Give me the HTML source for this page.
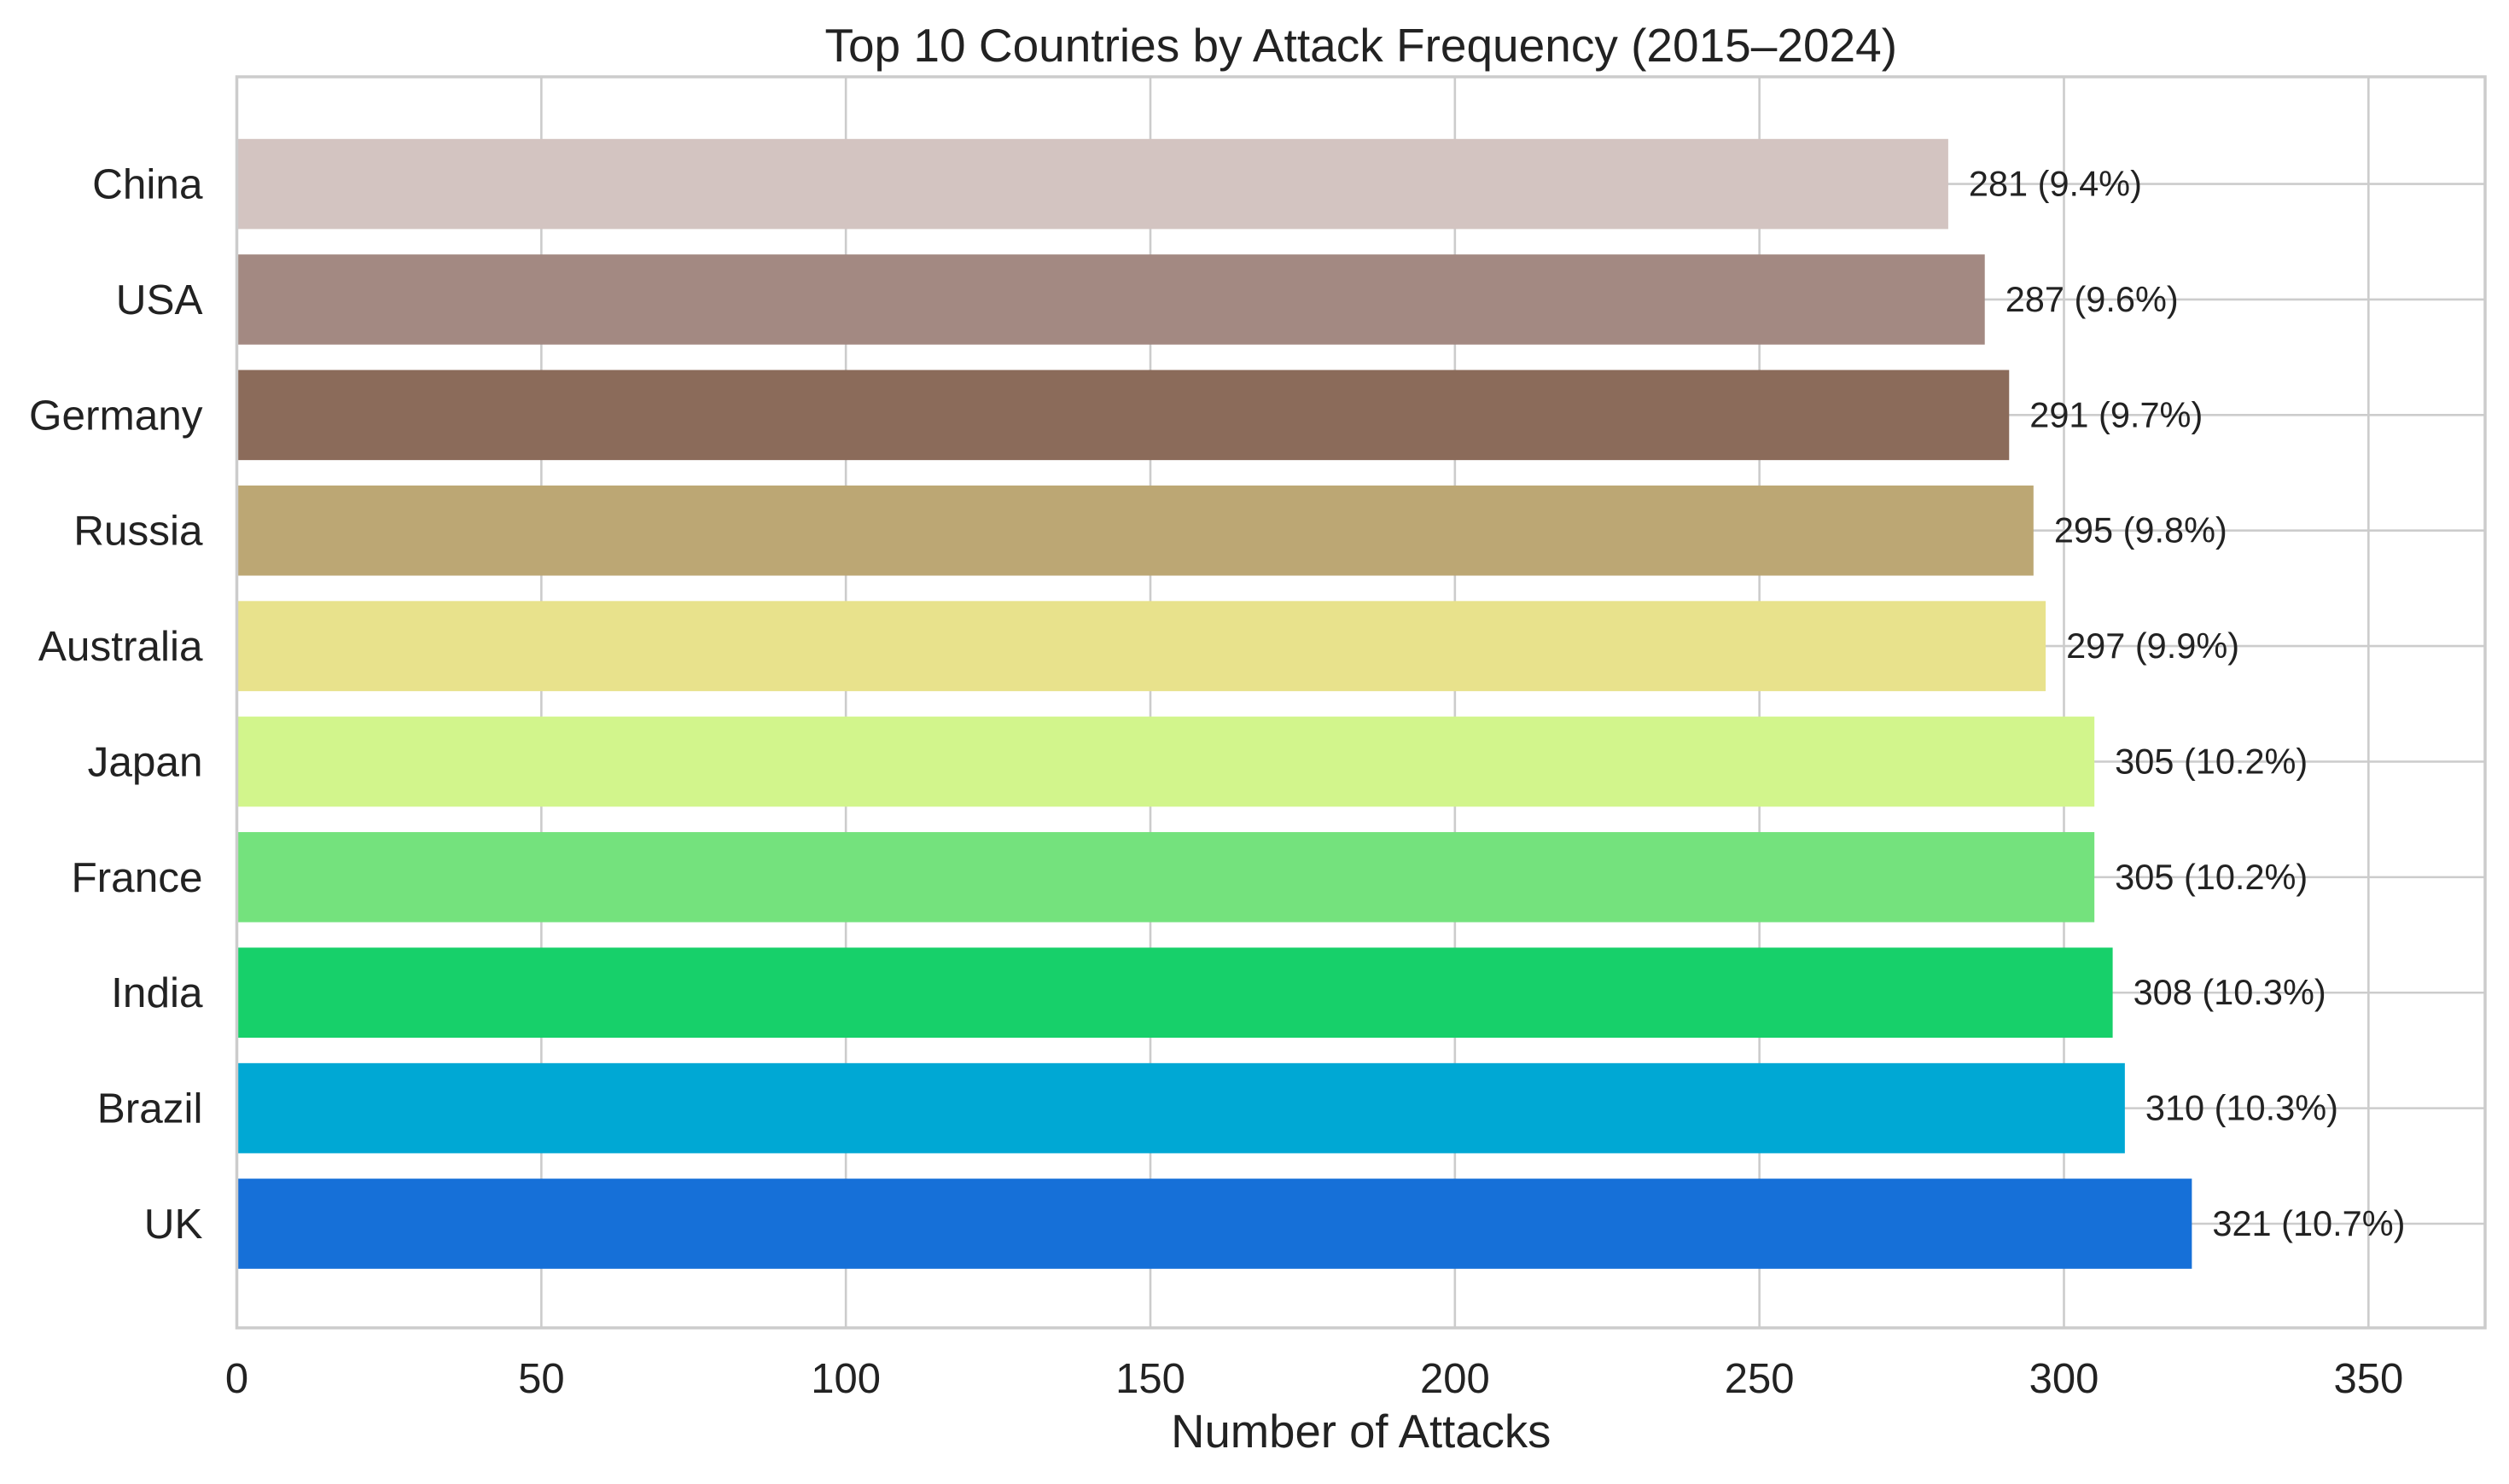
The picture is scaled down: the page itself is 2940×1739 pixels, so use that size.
<!DOCTYPE html>
<html><head><meta charset="utf-8"><style>
html,body{margin:0;padding:0;background:#fff;}
svg{display:block;font-family:"Liberation Sans",Arial,sans-serif;}
</style></head><body>
<svg id="chart" width="2940" height="1739" viewBox="0 0 2940 1739" xmlns="http://www.w3.org/2000/svg">
<rect width="2940" height="1739" fill="#fff"/>
<g id="grid"></g>
<g id="bars"></g>
<g id="labels"></g>
<g id="axes"></g>
</svg>
<script>
const categories = ["China","USA","Germany","Russia","Australia","Japan","France","India","Brazil","UK"];
const values = [281,287,291,295,297,305,305,308,310,321];
const percents = ["9.4%","9.6%","9.7%","9.8%","9.9%","10.2%","10.2%","10.3%","10.3%","10.7%"];
const colors = ["#d3c4c1","#a38982","#8b6b5a","#bca774","#e8e28c","#d2f58c","#74e27d","#17d06a","#00a8d4","#1670d8"];
const xTicks = [0,50,100,150,200,250,300,350];

const NS="http://www.w3.org/2000/svg";
const L=277.5,R=2912,T=90,B=1556;
const xMax=Math.max(...values)*1.15;
const n=categories.length;
const yTop=215.6, yBot=1434;
function x(v){return L+(v/xMax)*(R-L);}
function y(i){return yTop+i*(yBot-yTop)/(n-1);}
const step=(yBot-yTop)/(n-1);
function mk(tag,attrs,parent,text){const e=document.createElementNS(NS,tag);for(const k in attrs)e.setAttribute(k,attrs[k]);if(text!==undefined)e.textContent=text;parent.appendChild(e);return e;}
const grid=document.getElementById('grid'),bars=document.getElementById('bars'),labels=document.getElementById('labels'),axes=document.getElementById('axes');

xTicks.forEach(t=>{
  const g=mk('line',{x1:x(t),x2:x(t),y1:T,y2:B,stroke:'#cccccc','stroke-width':2.6},grid);
  
  
  const tl=mk('text',{x:x(t),y:B+76,'text-anchor':'middle','font-size':49,fill:'#222'},axes,String(t));
  
  
});
categories.forEach((c,i)=>{
  const gl=mk('line',{x1:L,x2:R,y1:y(i),y2:y(i),stroke:'#cccccc','stroke-width':2.6},grid);
  
  
  const bh=step*0.78;
  const r=mk('rect',{x:x(0),y:y(i)-bh/2,width:x(values[i])-x(0),height:bh,fill:colors[i]},bars);
  
  
  const vl=mk('text',{x:x(values[i])+24,y:y(i)+14,'font-size':41.5,fill:'#222'},labels,values[i]+' ('+percents[i]+')');
  
  
  const yl=mk('text',{x:L-40,y:y(i)+17,'text-anchor':'end','font-size':49.5,fill:'#222'},axes,c);
  
  
});
const fr=mk('rect',{x:L,y:T,width:R-L,height:B-T,fill:'none',stroke:'#cccccc','stroke-width':3.5},axes);


const ti=mk('text',{x:(L+R)/2,y:72,'text-anchor':'middle','font-size':55,fill:'#222'},axes,'Top 10 Countries by Attack Frequency (2015–2024)');


const xl=mk('text',{x:(L+R)/2,y:1696,'text-anchor':'middle','font-size':54.5,fill:'#222'},axes,'Number of Attacks');


</script>
</body></html>
